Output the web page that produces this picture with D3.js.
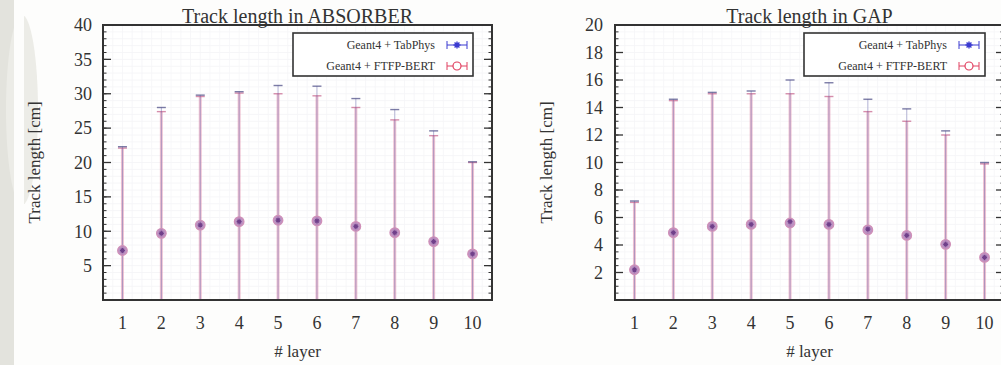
<!DOCTYPE html>
<html><head><meta charset="utf-8">
<script src="https://cdn.jsdelivr.net/npm/d3@7/dist/d3.min.js"></script>
<style>
html,body{margin:0;padding:0;background:#fdfdfc;}
svg{display:block;}
svg text{font-family:"Liberation Serif","Times New Roman",serif;}
</style></head>
<body><svg id="c" width="1001" height="365"></svg>
<script>
// ---- data ----
const layers = [1,2,3,4,5,6,7,8,9,10];
const seriesNames = ["Geant4 + TabPhys", "Geant4 + FTFP-BERT"];
const absTitle = "Track length in ABSORBER";
const gapTitle = "Track length in GAP";
const yLabel = "Track length [cm]";
const xLabel = "# layer";
const absYTicks = [5,10,15,20,25,30,35,40];
const gapYTicks = [2,4,6,8,10,12,14,16,18,20];
// mean track length per layer (both lists nearly identical)
const absMeanTab  = [7.2, 9.7, 10.9, 11.4, 11.6, 11.5, 10.7, 9.8, 8.5, 6.7];
const absMeanFtfp = [7.2, 9.7, 10.9, 11.4, 11.6, 11.5, 10.7, 9.8, 8.5, 6.7];
// upper end of the error bars
const absUpTab  = [22.3, 28.0, 29.8, 30.3, 31.2, 31.1, 29.3, 27.7, 24.6, 20.1];
const absUpFtfp = [22.1, 27.4, 29.6, 30.1, 30.0, 29.7, 28.0, 26.2, 23.9, 20.0];
const gapMeanTab  = [2.2, 4.9, 5.35, 5.5, 5.7, 5.5, 5.15, 4.7, 4.05, 3.1];
const gapMeanFtfp = [2.2, 4.9, 5.35, 5.5, 5.6, 5.5, 5.1, 4.7, 4.05, 3.1];
const gapUpTab  = [7.2, 14.6, 15.1, 15.2, 16.0, 15.8, 14.6, 13.9, 12.3, 10.0];
const gapUpFtfp = [7.1, 14.5, 15.0, 15.0, 15.0, 14.8, 13.7, 13.0, 12.0, 9.9];

const FONT = "Liberation Serif";
const svg = d3.select("#c");
// slide decoration strip on the left
svg.append("rect").attr("x",0).attr("y",0).attr("width",14).attr("height",365).attr("fill","#e3e3dd");
svg.append("ellipse").attr("cx",22).attr("cy",110).attr("rx",16).attr("ry",95).attr("fill","#ecece7");
svg.append("rect").attr("x",14).attr("y",0).attr("width",10).attr("height",365).attr("fill","#fdfdfc");

const panels = [
  {title:absTitle, yMax:40, yTicks:absYTicks, minorStep:1, x0:103, x1:492, labX:34, tickLabX:92,
   series:[{mean:absMeanTab, up:absUpTab},{mean:absMeanFtfp, up:absUpFtfp}], legend:[293,473]},
  {title:gapTitle, yMax:20, yTicks:gapYTicks, minorStep:0.5, x0:615, x1:1004, labX:546, tickLabX:603,
   series:[{mean:gapMeanTab, up:gapUpTab},{mean:gapMeanFtfp, up:gapUpFtfp}], legend:[804,985]}
];
const plotTop = 25, plotBottom = 300;

function star(g, cx, cy, r, color, w){
  const p = d3.path();
  p.moveTo(cx-r,cy); p.lineTo(cx+r,cy);
  p.moveTo(cx,cy-r); p.lineTo(cx,cy+r);
  p.moveTo(cx-r*0.7,cy-r*0.7); p.lineTo(cx+r*0.7,cy+r*0.7);
  p.moveTo(cx-r*0.7,cy+r*0.7); p.lineTo(cx+r*0.7,cy-r*0.7);
  g.append("path").attr("d",p.toString()).attr("stroke",color).attr("stroke-width",w||1.4).attr("fill","none");
}

panels.forEach((P,pi)=>{
  const x = d3.scaleLinear().domain([0.5,10.5]).range([P.x0,P.x1]);
  const y = d3.scaleLinear().domain([0,P.yMax]).range([plotBottom,plotTop]);
  const g = svg.append("g");
  const clipId = "clip"+pi;
  svg.append("clipPath").attr("id",clipId).append("rect")
    .attr("x",P.x0).attr("y",plotTop).attr("width",P.x1-P.x0).attr("height",plotBottom-plotTop);
  g.append("rect").attr("x",P.x0).attr("y",plotTop).attr("width",P.x1-P.x0).attr("height",plotBottom-plotTop).attr("fill","#ffffff");
  // faint grid
  const minor = d3.range(P.minorStep, P.yMax, P.minorStep);
  g.selectAll(".gy").data(minor).join("line")
    .attr("x1",P.x0).attr("x2",P.x1).attr("y1",d=>y(d)).attr("y2",d=>y(d))
    .attr("stroke","#f4f4f6").attr("stroke-width",0.8);
  g.selectAll(".gx").data(d3.range(0.75,10.5,0.25)).join("line")
    .attr("y1",plotTop).attr("y2",plotBottom).attr("x1",d=>x(d)).attr("x2",d=>x(d))
    .attr("stroke","#f5f5f7").attr("stroke-width",0.8);

  const data = svg.append("g").attr("clip-path",`url(#${clipId})`);
  const colors = ["#5050a0","#e088a8"];
  [1,0].forEach(si=>{
    const S = P.series[si];
    const lo = S.mean.map((m,i)=>2*m - S.up[i]);
    data.selectAll(".eb"+si).data(layers).join("line")
      .attr("x1",d=>x(d)).attr("x2",d=>x(d))
      .attr("y1",(d,i)=>y(lo[i])).attr("y2",(d,i)=>y(S.up[i]))
      .attr("stroke",colors[si]).attr("stroke-width",si?3:0.9).attr("stroke-opacity",si?0.5:0.45);
    data.selectAll(".cap"+si).data(layers).join("line")
      .attr("x1",d=>x(d)-4.5).attr("x2",d=>x(d)+4.5)
      .attr("y1",(d,i)=>y(S.up[i])).attr("y2",(d,i)=>y(S.up[i]))
      .attr("stroke",si?"#c86890":"#505088").attr("stroke-width",1.4).attr("stroke-opacity",0.75);
  });
  const Sf = P.series[1], St = P.series[0];
  data.selectAll(".mc").data(layers).join("circle")
    .attr("cx",d=>x(d)).attr("cy",(d,i)=>y(Sf.mean[i])).attr("r",4.8)
    .attr("fill","#b080b8").attr("fill-opacity",0.85).attr("stroke","#d090b8").attr("stroke-width",1.2);
  layers.forEach((d,i)=> star(data, x(d), y(St.mean[i]), 2.5, "#70408a", 1.2));

  svg.append("rect").attr("x",P.x0).attr("y",plotTop).attr("width",P.x1-P.x0).attr("height",plotBottom-plotTop)
    .attr("fill","none").attr("stroke","#333").attr("stroke-width",2);
  const tk = svg.append("g").attr("stroke","#333");
  [P.x0, P.x1].forEach((xx,k)=>{
    const dir = k===0?1:-1;
    tk.selectAll(null).data(minor).join("line")
      .attr("x1",xx).attr("x2",xx+dir*3.5).attr("y1",d=>y(d)).attr("y2",d=>y(d)).attr("stroke-width",1);
    tk.selectAll(null).data(P.yTicks).join("line")
      .attr("x1",xx).attr("x2",xx+dir*8).attr("y1",d=>y(d)).attr("y2",d=>y(d)).attr("stroke-width",1.3);
  });
  svg.append("g").selectAll("text").data(P.yTicks).join("text")
    .attr("x",P.tickLabX).attr("y",d=>y(d)).attr("dy","0.35em").attr("text-anchor","end")
    .attr("font-family",FONT).attr("font-size",18).attr("fill","#333").text(d=>d);
  svg.append("g").selectAll("text").data(layers).join("text")
    .attr("x",d=>x(d)).attr("y",329).attr("text-anchor","middle")
    .attr("font-family",FONT).attr("font-size",18).attr("fill","#333").text(d=>d);
  svg.append("text").attr("x",(P.x0+P.x1)/2).attr("y",357).attr("text-anchor","middle")
    .attr("font-family",FONT).attr("font-size",17).attr("fill","#333").text(xLabel);
  svg.append("text").attr("transform",`translate(${P.labX},${(plotTop+plotBottom)/2}) rotate(-90)`)
    .attr("text-anchor","middle").attr("dy","0.35em").attr("font-family",FONT).attr("font-size",17).attr("fill","#333").text(yLabel);
  svg.append("text").attr("x",(P.x0+P.x1)/2).attr("y",23).attr("text-anchor","middle")
    .attr("font-family",FONT).attr("font-size",20).attr("fill","#333").text(P.title);

  const [lx0,lx1] = P.legend;
  const lg = svg.append("g");
  lg.append("rect").attr("x",lx0).attr("y",33).attr("width",lx1-lx0).attr("height",43)
    .attr("fill","#fff").attr("stroke","#333").attr("stroke-width",1.6);
  [45,66].forEach((ly,si)=>{
    lg.append("text").attr("x",lx1-38).attr("y",ly).attr("dy","0.35em").attr("text-anchor","end")
      .attr("font-family",FONT).attr("font-size",12).attr("fill","#333").text(seriesNames[si]);
    const sx = lx1-16;
    const col = si?"#e04060":"#3a3ad0";
    lg.append("line").attr("x1",sx-10).attr("x2",sx+10).attr("y1",ly).attr("y2",ly).attr("stroke",col).attr("stroke-width",1);
    [sx-10,sx+10].forEach(ex=>lg.append("line").attr("x1",ex).attr("x2",ex).attr("y1",ly-4).attr("y2",ly+4).attr("stroke",col).attr("stroke-width",1));
    if(si) lg.append("circle").attr("cx",sx).attr("cy",ly).attr("r",4).attr("fill","#fff").attr("stroke",col).attr("stroke-width",1.2);
    else star(lg, sx, ly, 3.5, col);
  });
});
</script></body></html>
